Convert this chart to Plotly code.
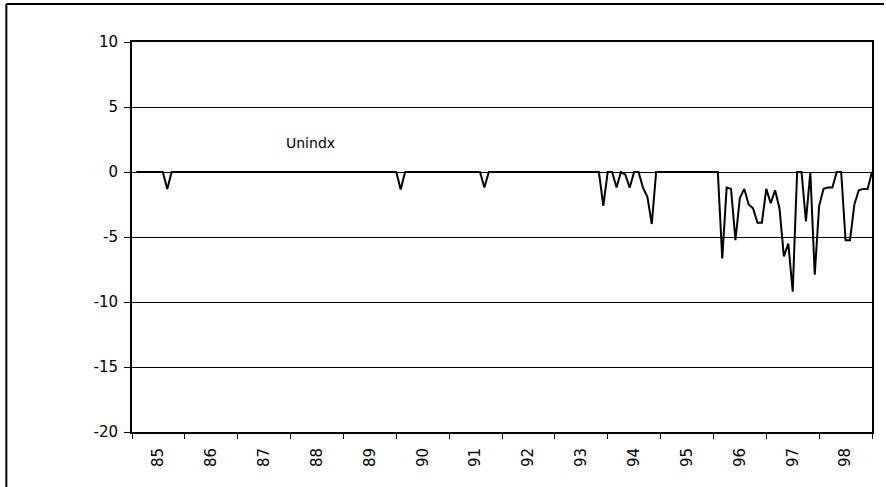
import plotly.graph_objects as go

# Monthly values, Jan 1985 .. Dec 1998 (one row per year)
y1985 = [0, 0, 0, 0, 0, 0, 0, -1.3, 0, 0, 0, 0]
y1986 = [0, 0, 0, 0, 0, 0, 0, 0, 0, 0, 0, 0]
y1987 = [0, 0, 0, 0, 0, 0, 0, 0, 0, 0, 0, 0]
y1988 = [0, 0, 0, 0, 0, 0, 0, 0, 0, 0, 0, 0]
y1989 = [0, 0, 0, 0, 0, 0, 0, 0, 0, 0, 0, 0]
y1990 = [-1.35, 0, 0, 0, 0, 0, 0, 0, 0, 0, 0, 0]
y1991 = [0, 0, 0, 0, 0, 0, 0, -1.2, 0, 0, 0, 0]
y1992 = [0, 0, 0, 0, 0, 0, 0, 0, 0, 0, 0, 0]
y1993 = [0, 0, 0, 0, 0, 0, 0, 0, 0, 0, -2.6, 0]
y1994 = [0, -1.2, 0, -0.2, -1.2, 0, 0, -1.2, -1.9, -4.0, 0, 0]
y1995 = [0, 0, 0, 0, 0, 0, 0, 0, 0, 0, 0, 0]
y1996 = [0, -6.65, -1.2, -1.3, -5.25, -2.0, -1.3, -2.5, -2.8, -3.9, -3.9, -1.3]
y1997 = [-2.4, -1.4, -2.8, -6.5, -5.5, -9.2, 0, 0, -3.8, 0, -7.9, -2.6]
y1998 = [-1.3, -1.2, -1.2, 0, 0, -5.25, -5.25, -2.5, -1.4, -1.3, -1.3, 0]

years = list(range(1985, 1999))
yearly = [y1985, y1986, y1987, y1988, y1989, y1990, y1991,
          y1992, y1993, y1994, y1995, y1996, y1997, y1998]
x_tick_labels = ["85", "86", "87", "88", "89", "90", "91",
                 "92", "93", "94", "95", "96", "97", "98"]
y_tick_values = [-20, -15, -10, -5, 0, 5, 10]
y_tick_labels = ["-20", "-15", "-10", "-5", "0", "5", "10"]
series_name = "Unindx"

xs, ys = [], []
for yr, vals in zip(years, yearly):
    for m, v in enumerate(vals):
        xs.append(yr + (m + 1) / 12.0)
        ys.append(v)

fig = go.Figure()
fig.add_trace(go.Scatter(x=xs, y=ys, mode="lines",
                         line=dict(color="black", width=2),
                         name=series_name, showlegend=False,
                         hoverinfo="skip"))

fig.add_annotation(x=1988.37, y=2.25, text=series_name, showarrow=False,
                   font=dict(family="DejaVu Sans", size=14, color="black"))

font = dict(family="DejaVu Sans", size=15, color="black")

fig.update_layout(
    width=886, height=487,
    margin=dict(l=132, r=12, t=42, b=55, pad=0),
    paper_bgcolor="white", plot_bgcolor="white",
    showlegend=False,
    font=font,
    xaxis=dict(
        range=[1985, 1999],
        tickmode="array",
        tickvals=[y + 0.5 for y in years],
        ticktext=x_tick_labels,
        tickangle=-90,
        ticks="",
        ticklabelstandoff=8,
        showgrid=False, zeroline=False,
        showline=True, linecolor="black", linewidth=2, mirror=True,
        minor=dict(tickmode="array", tickvals=years + [1999],
                   ticks="outside", ticklen=5, tickwidth=1, tickcolor="black",
                   showgrid=False),
        tickfont=font,
    ),
    yaxis=dict(
        range=[-20, 10],
        tickmode="array",
        tickvals=y_tick_values,
        ticktext=y_tick_labels,
        ticks="outside", ticklen=6, tickwidth=1, tickcolor="black",
        ticklabelstandoff=3,
        showgrid=True, gridcolor="black", gridwidth=1,
        zeroline=True, zerolinecolor="black", zerolinewidth=1,
        showline=True, linecolor="black", linewidth=2, mirror=True,
        tickfont=font,
    ),
)

# Page frame lines (top and left), as in the scanned original
fig.add_shape(type="line", xref="paper", yref="paper",
              x0=-126 / 742, x1=754 / 742, y0=428 / 390, y1=428 / 390,
              line=dict(color="black", width=2))
fig.add_shape(type="line", xref="paper", yref="paper",
              x0=-126 / 742, x1=-126 / 742, y0=428 / 390, y1=-55 / 390,
              line=dict(color="black", width=2))

fig.write_html("out.html",
               config={"displayModeBar": False},
               post_script="document.body.style.margin='0';document.body.style.overflow='hidden';")
